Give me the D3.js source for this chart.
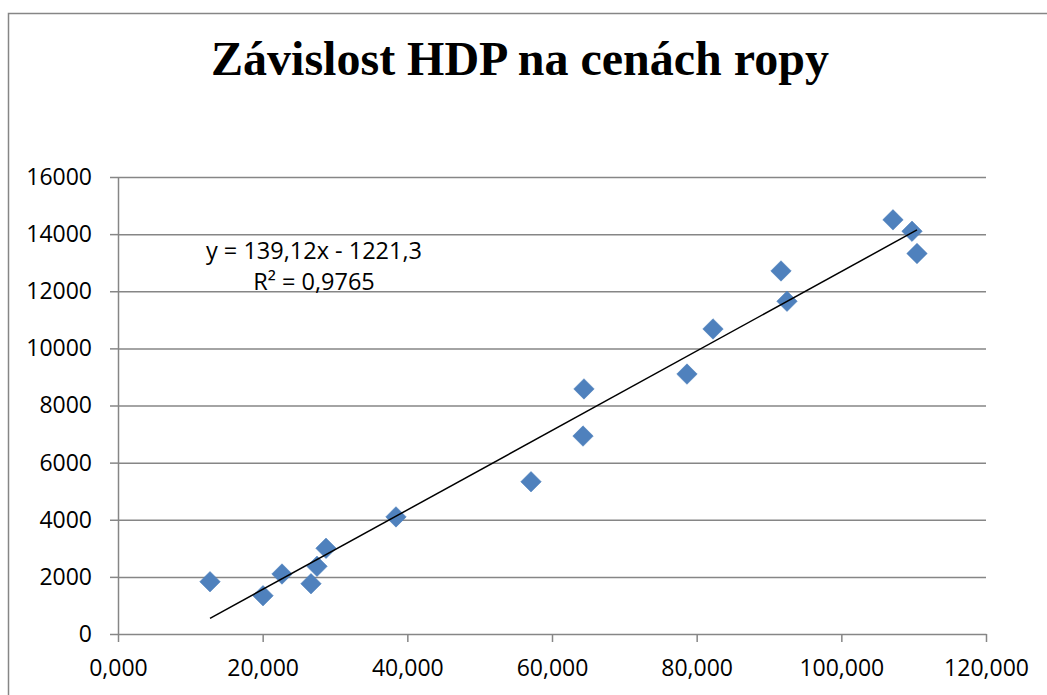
<!DOCTYPE html>
<html>
<head>
<meta charset="utf-8">
<script src="https://cdn.jsdelivr.net/npm/d3@7"></script>
<style>
  html, body { margin: 0; padding: 0; background: #fff; }
  svg { display: block; }
  .tick text { font-family: "Open Sans", sans-serif; font-size: 23px; fill: #000; }
</style>
</head>
<body>
<svg id="chart" width="1047" height="695"></svg>
<script>
// oil price (x) vs GDP (y)
const cenaRopy = [12.72, 20.05, 22.67, 26.68, 27.51, 28.76, 38.43, 57.10, 64.29, 64.42, 78.66, 82.26, 91.66, 92.49, 107.14, 109.77, 110.46];
const hdp = [1830, 1340, 2100, 1760, 2370, 3000, 4100, 5330, 6930, 8580, 9100, 10680, 12710, 11650, 14500, 14100, 13320];

const xTicks = [0, 20, 40, 60, 80, 100, 120];
const yTicks = [0, 2000, 4000, 6000, 8000, 10000, 12000, 14000, 16000];

// linear trendline as shown in the label
const slope = 139.12;
const intercept = -1221.3;
const rSquared = 0.9765;

const title = "Závislost HDP na cenách ropy";

const svg = d3.select('#chart');
const cz = d3.formatLocale({ decimal: ",", thousands: " ", grouping: [3], currency: ["", " Kč"] });

const plotLeft = 118, plotRight = 986, plotTop = 177, plotBottom = 634;
const x = d3.scaleLinear().domain([0, 120]).range([plotLeft, plotRight]);
const y = d3.scaleLinear().domain([0, 16000]).range([plotBottom, plotTop]);

// chart frame
svg.append('rect')
  .attr('x', 8.5).attr('y', 13.5)
  .attr('width', 1100).attr('height', 800)
  .attr('fill', 'none')
  .attr('stroke', '#868686')
  .attr('stroke-width', 1.5);

svg.append('text')
  .attr('x', 520).attr('y', 75)
  .attr('text-anchor', 'middle')
  .style('font-family', '"Liberation Serif", "Times New Roman", serif')
  .style('font-weight', 'bold')
  .style('font-size', '48px')
  .text(title);

// horizontal gridlines
const grid = svg.append('g')
  .attr('transform', `translate(${plotLeft},0)`)
  .call(d3.axisLeft(y).tickValues(yTicks.slice(1)).tickSize(-(plotRight - plotLeft)).tickFormat(''));
grid.select('.domain').remove();
grid.selectAll('line').attr('stroke', '#868686').attr('stroke-width', 1.5);

// y axis
const yAxis = svg.append('g')
  .attr('transform', `translate(${plotLeft},0)`)
  .call(d3.axisLeft(y).tickValues(yTicks).tickSize(8).tickSizeOuter(0).tickPadding(18).tickFormat(d3.format('d')));
yAxis.select('.domain').attr('stroke', '#868686').attr('stroke-width', 1.5);
yAxis.selectAll('line').attr('stroke', '#868686').attr('stroke-width', 1.5);

// x axis
const xAxis = svg.append('g')
  .attr('transform', `translate(0,${plotBottom})`)
  .call(d3.axisBottom(x).tickValues(xTicks).tickSize(8).tickSizeOuter(0).tickPadding(18).tickFormat(cz.format('.3f')));
xAxis.select('.domain').attr('stroke', '#868686').attr('stroke-width', 1.5);
xAxis.selectAll('line').attr('stroke', '#868686').attr('stroke-width', 1.5);

// points
const points = cenaRopy.map((c, i) => ({ x: c, y: hdp[i] }));
const diamond = d3.symbol(d3.symbolSquare, 210);

svg.append('g').selectAll('path')
  .data(points)
  .join('path')
  .attr('d', diamond)
  .attr('transform', d => `translate(${x(d.x)},${y(d.y)}) rotate(45)`)
  .attr('fill', '#4f81bd')
  .attr('stroke', '#4a7ebb')
  .attr('stroke-width', 0.5);

// trendline over the data range
const xMin = d3.min(cenaRopy), xMax = d3.max(cenaRopy);
svg.append('line')
  .attr('x1', x(xMin)).attr('y1', y(slope * xMin + intercept))
  .attr('x2', x(xMax)).attr('y2', y(slope * xMax + intercept))
  .attr('stroke', '#000')
  .attr('stroke-width', 1.5);

// equation label
const f2 = cz.format('.2f'), f1 = cz.format('.1f'), f4 = cz.format('.4f');
const eq = svg.append('text')
  .attr('text-anchor', 'middle')
  .style('font-family', '"Open Sans", sans-serif')
  .style('font-size', '23.5px');
eq.append('tspan').attr('x', 314).attr('y', 259)
  .text(`y = ${f2(slope)}x - ${f1(-intercept)}`);
eq.append('tspan').attr('x', 314).attr('y', 290)
  .text(`R² = ${f4(rSquared)}`);
</script>
</body>
</html>
